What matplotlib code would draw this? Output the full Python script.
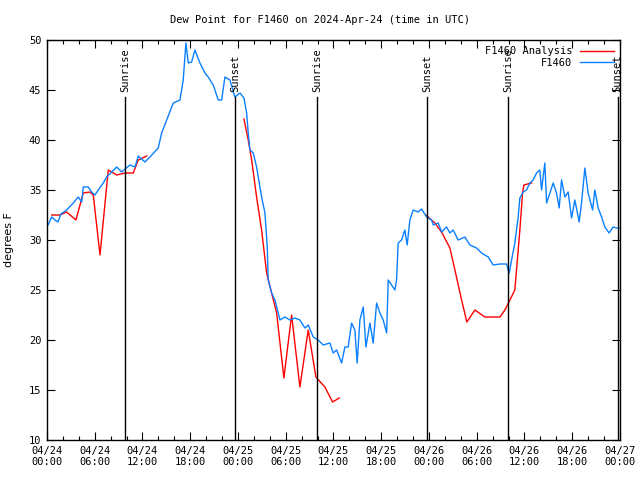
import numpy as np
import matplotlib
matplotlib.use('Agg')
import matplotlib.pyplot as plt

# hours since 2024-04-24 00:00 UTC
obs_hours = [0.13, 0.59, 1.00, 1.38, 1.75, 2.47, 3.30, 3.93, 4.36, 4.56, 5.19, 5.60,
             6.03, 6.44, 7.07, 7.50, 8.76, 9.38, 10.43, 11.06, 11.47, 12.31, 12.94,
             13.98, 14.41, 15.04, 15.87, 16.71, 17.12, 17.46, 17.75, 18.18, 18.59,
             19.22, 19.85, 20.26, 20.89, 21.52, 21.95, 22.36, 22.99, 23.62, 24.25,
             24.75, 25.09, 25.29, 25.50, 25.92, 26.34, 26.97, 27.39, 27.68, 27.80,
             28.23, 28.64, 29.06, 29.27, 29.90, 30.53, 31.16, 31.78, 32.41, 32.83,
             33.46, 34.08, 34.71, 35.55, 35.97, 36.39, 37.02, 37.44, 37.85, 38.28,
             38.69, 38.98, 39.32, 39.74, 40.08, 40.58, 40.99, 41.42, 41.83, 42.25,
             42.68, 42.88, 43.72, 43.93, 44.13, 44.56, 44.97, 45.26, 45.60, 46.02,
             46.64, 47.07, 47.70, 48.33, 48.53, 49.16, 49.58, 50.21, 50.63, 51.04,
             51.67, 52.51, 53.14, 53.98, 54.61, 55.44, 56.07, 56.91, 57.75, 58.08,
             58.38, 58.79, 59.21, 59.42, 59.84, 60.26, 60.68, 61.09, 61.52, 61.93,
             62.15, 62.56, 62.78, 63.19, 63.61, 64.03, 64.36, 64.66, 65.08, 65.49,
             65.92, 66.33, 66.87, 67.17, 67.59, 68.00, 68.56, 68.84, 69.26, 69.69,
             70.10, 70.64, 71.14, 71.57, 71.98]
obs_dewpt = [31.5, 32.3, 32.0, 31.8, 32.6, 33.0, 33.7, 34.3, 33.8, 35.3, 35.3, 34.8,
             34.5, 35.0, 35.7, 36.3, 37.3, 36.8, 37.5, 37.3, 38.4, 37.8, 38.3,
             39.2, 40.7, 42.0, 43.7, 44.0, 46.0, 49.7, 47.7, 47.8, 49.0,
             47.7, 46.7, 46.3, 45.5, 44.0, 44.0, 46.3, 46.0, 44.3, 44.7,
             44.2, 42.7, 40.7, 39.0, 38.7, 37.3, 34.3, 32.7, 29.3, 26.0,
             24.7, 24.0, 22.7, 22.0, 22.3, 22.0, 22.2, 22.0, 21.2, 21.5,
             20.3, 20.0, 19.5, 19.7, 18.7, 19.0, 17.7, 19.3, 19.3, 21.7,
             21.0, 17.7, 22.0, 23.3, 19.3, 21.7, 19.7, 23.7, 22.7, 22.0,
             20.7, 26.0, 25.0, 26.0, 29.7, 30.0, 31.0, 29.5, 32.0, 33.0,
             32.8, 33.1, 32.3, 32.0, 31.5, 31.7, 30.8, 31.3, 30.7, 31.0,
             30.0, 30.3, 29.5, 29.2, 28.7, 28.3, 27.5, 27.6, 27.6, 26.7,
             28.0, 29.7, 32.3, 34.2, 34.8, 35.0, 35.7, 36.0, 36.7, 37.0,
             35.0, 37.7, 33.7, 34.7, 35.7, 34.7, 33.2, 36.0, 34.3, 34.8,
             32.2, 34.0, 31.8, 33.7, 37.2, 34.7, 33.0, 35.0, 33.2, 32.3,
             31.3, 30.7, 31.3, 31.2, 31.2]

nan = float('nan')
ana_hours = [0.59, 1.63, 2.47, 3.64, 4.56, 5.40, 5.82, 6.66, 7.70, 8.76, 9.80, 10.84,
             11.47, 12.53, 18.0,
             24.75, 25.29, 25.72, 26.34, 26.97, 27.60, 28.23, 28.86, 29.77, 30.74,
             31.78, 32.83, 33.79, 34.92, 35.89, 36.72, 42.0,
             47.61, 48.74, 49.58, 50.63, 51.26, 52.10, 52.76, 53.77, 55.03, 56.91,
             57.54, 58.17, 58.79, 59.42, 59.76, 59.92, 60.89]
ana_dewpt = [32.5, 32.5, 32.8, 32.0, 34.7, 34.8, 34.5, 28.5, 37.0, 36.5, 36.7, 36.7,
             38.0, 38.4, nan,
             42.1, 40.0, 38.0, 34.3, 31.0, 26.7, 24.7, 22.7, 16.2, 22.5,
             15.3, 21.0, 16.3, 15.3, 13.8, 14.2, nan,
             32.5, 31.7, 30.8, 29.2, 27.0, 24.0, 21.8, 23.0, 22.3, 22.3,
             23.0, 24.0, 25.0, 31.0, 34.7, 35.5, 35.7]

sun_hours = [9.8, 23.62, 33.92, 47.73, 57.9, 71.7]
sun_labels = ['Sunrise', 'Sunset', 'Sunrise', 'Sunset', 'Sunrise', 'Sunset']

tick_hours = list(range(0, 73, 6))
tick_labels = ['04/24\n00:00', '04/24\n06:00', '04/24\n12:00', '04/24\n18:00',
               '04/25\n00:00', '04/25\n06:00', '04/25\n12:00', '04/25\n18:00',
               '04/26\n00:00', '04/26\n06:00', '04/26\n12:00', '04/26\n18:00',
               '04/27\n00:00']

mono = 'DejaVu Sans Mono'
fs = 7.5

fig = plt.figure(figsize=(6.4, 4.8), dpi=100)
ax = fig.add_axes([0.0734, 0.0833, 0.8953, 0.8334])

ax.plot(ana_hours, ana_dewpt, color='#ff0000', lw=1.0, label='F1460 Analysis')
ax.plot(obs_hours, obs_dewpt, color='#0a80ff', lw=1.0, label='F1460')

for h, lab in zip(sun_hours, sun_labels):
    ax.plot([h, h], [10, 44.3], color='black', lw=1.0)
    ax.text(h, 44.8, lab, rotation=90, ha='center', va='bottom',
            family=mono, fontsize=fs)

ax.set_xlim(0, 72)
ax.set_ylim(10, 50)
ax.set_xticks(tick_hours)
ax.set_xticklabels(tick_labels, family=mono, fontsize=fs)
ax.set_xticks(list(range(0, 73, 2)), minor=True)
ax.set_yticks(list(range(10, 51, 5)))
ax.set_yticklabels([str(v) for v in range(10, 51, 5)], family=mono, fontsize=fs)
ax.tick_params(which='both', direction='in', top=True, right=True, width=0.8)
ax.tick_params(which='major', length=6, pad=4)
ax.tick_params(which='minor', length=3)
for s in ax.spines.values():
    s.set_linewidth(1.0)

ax.set_ylabel('degrees F', fontsize=fs + 0.5)
ax.yaxis.set_label_coords(-0.058, 0.5)
fig.text(0.5, 0.958, 'Dew Point for F1460 on 2024-Apr-24 (time in UTC)',
         ha='center', va='center', family=mono, fontsize=fs)

ax.legend(loc='upper right', frameon=False, markerfirst=False,
          prop={'family': mono, 'size': fs}, handlelength=3.2,
          handletextpad=0.8, labelspacing=0.15, borderaxespad=0.2)

fig.savefig('out.png', dpi=100)
